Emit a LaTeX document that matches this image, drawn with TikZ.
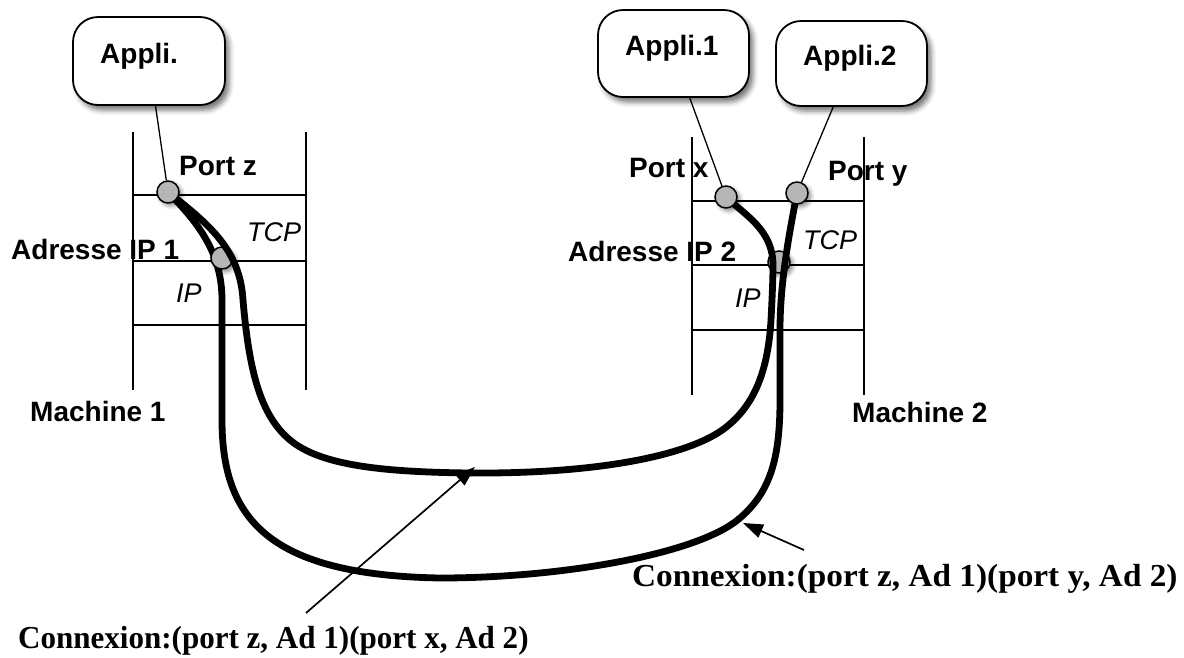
\documentclass[tikz,border=0pt]{standalone}
\usepackage{fontspec}
\setmainfont{Liberation Serif}
\setsansfont{Liberation Sans}
\usetikzlibrary{arrows.meta,shadows.blur}
\definecolor{portgray}{RGB}{182,182,182}
\tikzset{
  appbox/.style={draw, line width=1.8pt, fill=white, rounded corners=25pt,
    inner sep=0pt,
    blur shadow={shadow xshift=4pt, shadow yshift=-5pt,
                 shadow blur radius=5pt, shadow opacity=55}},
  portdot/.style={circle, draw, line width=1.5pt, fill=portgray,
    minimum size=22pt, inner sep=0pt,
    blur shadow={shadow xshift=3pt, shadow yshift=-3pt,
                 shadow blur radius=4pt, shadow opacity=45}},
  stackline/.style={line width=1.8pt},
  wire/.style={line width=1.3pt},
  link/.style={line width=6.8pt},
  pointer/.style={line width=1.7pt, -{Triangle[length=20pt,width=14pt]}},
  apptext/.style={font=\sffamily\bfseries\fontsize{28}{30}\selectfont,
    anchor=base west, inner sep=0pt},
  lab/.style={font=\sffamily\bfseries\fontsize{28}{30}\selectfont,
    anchor=base west, inner sep=0pt},
  layer/.style={font=\sffamily\itshape\fontsize{27}{29}\selectfont,
    anchor=base west, inner sep=0pt},
  conn/.style={font=\rmfamily\bfseries\fontsize{32}{34}\selectfont,
    anchor=base west, inner sep=0pt},
}
\begin{document}
\begin{tikzpicture}[x=1pt, y=-1pt]
\path[use as bounding box] (0,0) rectangle (1184,657);

% protocol stacks of the two machines
\draw[stackline] (133,132) -- (133,390) (306,132) -- (306,390);
\draw[stackline] (133,195) -- (306,195) (133,261) -- (306,261) (133,325) -- (306,325);
\draw[stackline] (692,137) -- (692,395) (864,137) -- (864,395);
\draw[stackline] (692,201) -- (864,201) (692,265) -- (864,265) (692,330) -- (864,330);

% applications
\node[appbox, minimum width=152pt, minimum height=88pt] (app)  at (149,61) {};
\node[appbox, minimum width=151pt, minimum height=87pt] (app1) at (673.5,53.5) {};
\node[appbox, minimum width=151pt, minimum height=85pt] (app2) at (851.5,63.5) {};

% ports and addresses
\coordinate (pz) at (168,192);
\coordinate (px) at (726,197);
\coordinate (py) at (797,193);
\coordinate (a1) at (222,258);
\coordinate (a2) at (779,262);

\node[portdot] (a2dot) at (a2) {};

% connection port z <-> port y
\draw[link] (pz) .. controls (195,220) and (222,250) .. (222,300)
  -- (222,420) .. controls (222,520) and (270,575) .. (440,578)
  .. controls (560,578) and (690,555) .. (735,522)
  .. controls (770,495) and (780,460) .. (780,400)
  -- (780,330) .. controls (780,280) and (790,230) .. (py);

\node[portdot] (a1dot) at (a1) {};

% connection port z <-> port x
\draw[link] (pz) .. controls (210,225) and (240,250) .. (243,300)
  .. controls (249,370) and (260,415) .. (290,440)
  .. controls (320,465) and (380,472) .. (470,473)
  .. controls (600,474) and (690,455) .. (725,428)
  .. controls (755,405) and (768,370) .. (771,320)
  .. controls (772,300) and (773,280) .. (773,265)
  .. controls (773,230) and (745,215) .. (px);

\node[portdot] (pzdot) at (pz) {};
\node[portdot] (pxdot) at (px) {};
\node[portdot] (pydot) at (py) {};

% links from the applications to their ports
\draw[wire] (pzdot) -- (app);
\draw[wire] (pxdot) -- (app1);
\draw[wire] (pydot) -- (app2);

% application names
\node[apptext] (tapp)  at (100,63) {Appli.};
\node[apptext] (tapp1) at (625,55) {Appli.1};
\node[apptext] (tapp2) at (803,65) {Appli.2};

% stack labels
\node[lab] (lportz) at (179,175) {Port z};
\node[layer] (ltcp1) at (247,241) {TCP};
\node[lab] (lad1) at (11,259) {Adresse IP 1};
\node[layer] (lip1) at (176,302) {IP};
\node[lab] (lm1) at (30,421) {Machine 1};

\node[lab] (lportx) at (629,177) {Port x};
\node[lab] (lporty) at (828,180) {Port y};
\node[layer] (ltcp2) at (803,249) {TCP};
\node[lab] (lad2) at (568,261) {Adresse IP 2};
\node[layer] (lip2) at (735,307) {IP};
\node[lab] (lm2) at (852,422) {Machine 2};

% connection captions
\coordinate (tipx) at (475,467);
\coordinate (tailx) at (306,613);
\coordinate (tipy) at (743,523);
\coordinate (taily) at (804,550);
\draw[pointer] (tailx) -- (tipx);
\draw[pointer] (taily) -- (tipy);
\node[conn] (cx) at (18,648) {\scalebox{0.97}[1]{Connexion:(port z, Ad 1)(port x, Ad 2)}};
\node[conn] (cy) at (632,586) {\scalebox{1.04}[1]{Connexion:(port z, Ad 1)(port y, Ad 2)}};
\end{tikzpicture}
\end{document}
